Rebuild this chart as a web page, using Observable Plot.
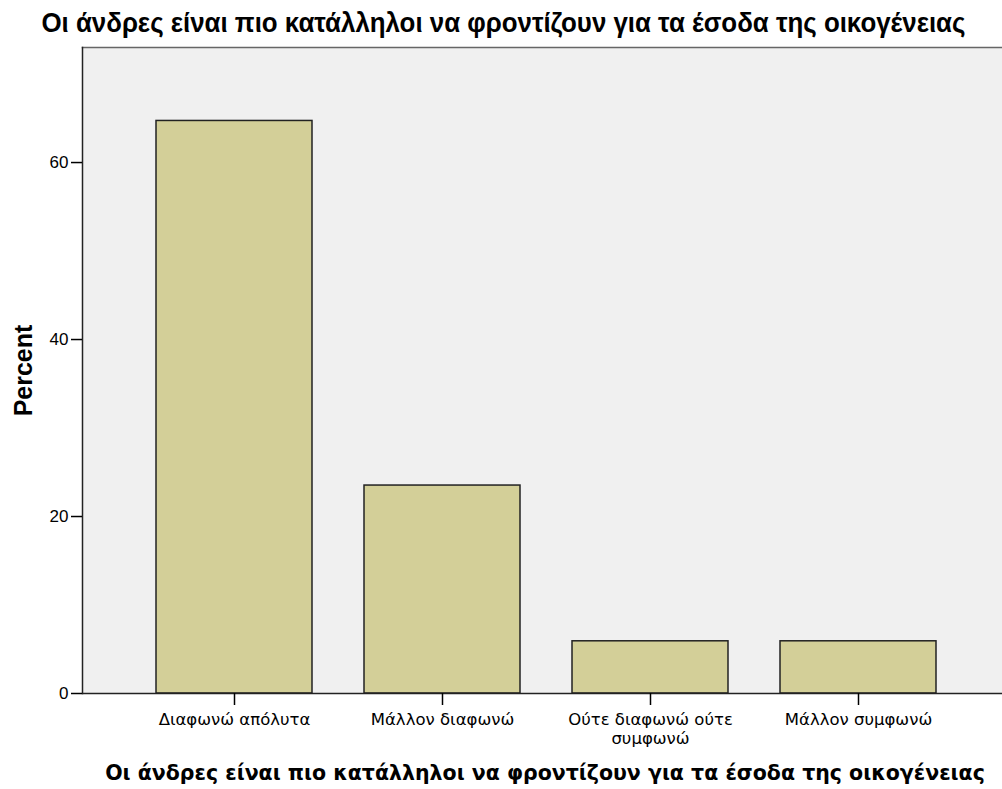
<!DOCTYPE html>
<html><head><meta charset="utf-8">
<script src="https://cdn.jsdelivr.net/npm/d3@7"></script>
<script src="https://cdn.jsdelivr.net/npm/@observablehq/plot@0.6"></script>
<style>
body{margin:0;background:#fff;}
#title{height:40px;line-height:46px;text-align:center;font-weight:bold;font-size:27px;font-family:"Liberation Sans",Arial,sans-serif;color:#000;white-space:nowrap;overflow:visible;padding-left:4px}
#title span{display:inline-block;transform-origin:50% 50%}
#caption{height:39px;line-height:47px;text-align:center;font-weight:bold;font-size:20.5px;font-family:"DejaVu Sans",sans-serif;color:#000;white-space:nowrap;padding-left:88px}
#chart svg{display:block}
</style></head><body>
<div id="title"><span></span></div>
<div id="chart"></div>
<div id="caption"></div>
<script>
const titleText = "Οι άνδρες είναι πιο κατάλληλοι να φροντίζουν για τα έσοδα της οικογένειας";
const xTitle = "Οι άνδρες είναι πιο κατάλληλοι να φροντίζουν για τα έσοδα της οικογένειας";
const yLabel = "Percent";
const categories = ["Διαφωνώ απόλυτα", "Μάλλον διαφωνώ", "Ούτε διαφωνώ ούτε συμφωνώ", "Μάλλον συμφωνώ"];
const tickLabels = ["Διαφωνώ απόλυτα", "Μάλλον διαφωνώ", "Ούτε διαφωνώ ούτε\nσυμφωνώ", "Μάλλον συμφωνώ"];
const percents = [64.7, 23.5, 5.9, 5.9];
const yTicks = [0, 20, 40, 60];

const titleSpan = document.querySelector("#title span");
titleSpan.textContent = titleText;
const tw = titleSpan.getBoundingClientRect().width;
titleSpan.style.transform = `scaleX(${924 / tw})`;
document.getElementById("caption").textContent = xTitle;

const data = categories.map((c, i) => ({category: c, percent: percents[i]}));

const plot = Plot.plot({
  width: 1002, height: 710,
  marginLeft: 82, marginRight: 0, marginTop: 7, marginBottom: 57,
  style: {fontFamily: "DejaVu Sans", fontSize: "16.5px", color: "#000", background: "#fff", overflow: "visible"},
  x: {domain: categories, padding: 0.248, insetLeft: 21.4, insetRight: 13.7, label: null},
  y: {domain: [0, 73], label: null},
  marks: [
    Plot.frame({fill: "#F0F0F0"}),
    Plot.frame({anchor: "top", stroke: "#666", strokeWidth: 1.5}),
    Plot.frame({anchor: "left", stroke: "#222", strokeWidth: 1.5}),
    Plot.barY(data, {x: "category", y: "percent", fill: "#D3CF98", stroke: "#222", strokeWidth: 1.5}),
    Plot.ruleY([0], {stroke: "#222", strokeWidth: 1.5}),
    Plot.axisY(yTicks, {tickSize: 11, tickPadding: 3, strokeWidth: 1.5, fontSize: 17,
      fontFamily: "Liberation Sans"}),
    Plot.axisX({tickSize: 12, tickPadding: 7, strokeWidth: 1.5, fontSize: 16.5, lineHeight: 1.1,
      tickFormat: d => tickLabels[categories.indexOf(d)]}),
    Plot.text([yLabel], {frameAnchor: "left", textAnchor: "middle", rotate: -90, dx: -59,
      fontWeight: "bold", fontSize: 25, fontFamily: "Liberation Sans"})
  ]
});
document.getElementById("chart").appendChild(plot);
</script>
</body></html>
